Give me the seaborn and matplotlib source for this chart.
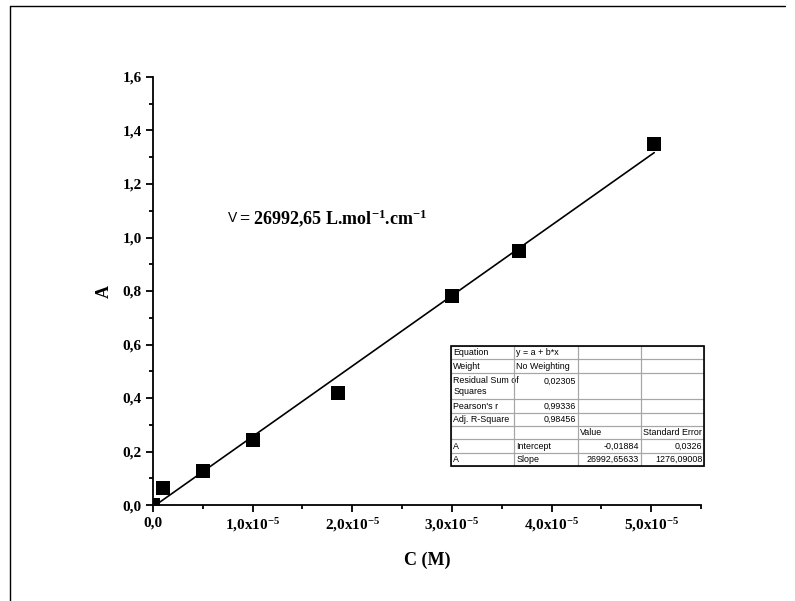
import pandas as pd
import numpy as np
import matplotlib
matplotlib.use('Agg')
import matplotlib.pyplot as plt
from matplotlib.ticker import MultipleLocator, FuncFormatter
from matplotlib.lines import Line2D
from matplotlib.patches import Rectangle
import seaborn as sns

#Datos: concentracion (M) y absorbancia
concentracion = [0.0, 1.0e-6, 5.0e-6, 1.0e-5, 1.86e-5, 3.0e-5, 3.67e-5, 5.03e-5]
absorbancia = [0.0, 0.065, 0.127, 0.243, 0.419, 0.781, 0.95, 1.35]

#Tabla de resultados del ajuste lineal (tal cual aparece en la grafica)
tabla_celdas = [
    ['Equation', 'y = a + b*x', '', ''],
    ['Weight', 'No Weighting', '', ''],
    ['Residual Sum of\nSquares', '0,02305\n', '', ''],
    ["Pearson's r", '0,99336', '', ''],
    ['Adj. R-Square', '0,98456', '', ''],
    ['', '', 'Value', 'Standard Error'],
    ['A', 'Intercept', '-0,01884', '0,0326'],
    ['A', 'Slope', '26992,65633', '1276,09008'],
]
celdas_derecha = [(2, 1), (3, 1), (4, 1), (6, 2), (6, 3), (7, 2), (7, 3)]

simbolo = 'V'
texto_epsilon = r'= 26992,65 L.mol$^{-1}$.cm$^{-1}$'

#Estilo general
sns.set_style('ticks')
plt.rcParams['font.family'] = ['Liberation Serif', 'DejaVu Serif']
plt.rcParams['font.weight'] = 'bold'
plt.rcParams['text.color'] = 'black'
plt.rcParams['axes.labelcolor'] = 'black'
plt.rcParams['xtick.color'] = 'black'
plt.rcParams['ytick.color'] = 'black'
plt.rcParams['mathtext.fontset'] = 'custom'
plt.rcParams['mathtext.rm'] = 'Liberation Serif:bold'
plt.rcParams['mathtext.bf'] = 'Liberation Serif:bold'
plt.rcParams['mathtext.default'] = 'regular'

fig = plt.figure(figsize=(7.95, 6.01), dpi=100)
ax = fig.add_axes([0.1925, 0.1597, 0.6893, 0.7122])

df = pd.DataFrame({'C': concentracion, 'A': absorbancia})
sns.regplot(data=df, x='C', y='A', ax=ax, ci=None, marker='s', color='black',
            scatter_kws={'s': 100, 'linewidths': 0, 'alpha': 1},
            line_kws={'lw': 1.2})

ax.set_xlim(0, 5.5e-5)
ax.set_ylim(0, 1.6)

#Formato de los ticks con coma decimal
def fmt_y(v, pos):
    return f'{v:.1f}'.replace('.', ',')

def fmt_x(v, pos):
    if abs(v) < 1e-12:
        return '0,0'
    return f'{v * 1e5:.1f}'.replace('.', ',') + r'x10$^{-5}$'

ax.xaxis.set_major_locator(MultipleLocator(1e-5))
ax.xaxis.set_minor_locator(MultipleLocator(5e-6))
ax.yaxis.set_major_locator(MultipleLocator(0.2))
ax.yaxis.set_minor_locator(MultipleLocator(0.1))
ax.xaxis.set_major_formatter(FuncFormatter(fmt_x))
ax.yaxis.set_major_formatter(FuncFormatter(fmt_y))

ax.tick_params(which='major', direction='out', length=5, width=1.3, labelsize=11, pad=3, color='black')
ax.tick_params(which='minor', direction='out', length=3, width=1.3, color='black')
sns.despine(ax=ax)
for lado in ['left', 'bottom']:
    ax.spines[lado].set_linewidth(1.3)
    ax.spines[lado].set_color('black')

ax.set_xlabel('C (M)', fontsize=13, fontweight='bold', labelpad=13)
ax.set_ylabel('A', fontsize=13, fontweight='bold', labelpad=7)

#Texto del coeficiente de absortividad
ax.text(7.53e-6, 1.073, simbolo, fontsize=10, fontweight='normal', family='Liberation Sans',
        va='center', ha='left')
ax.annotate(texto_epsilon, xy=(7.53e-6, 1.073), xytext=(8, 0), textcoords='offset points',
            fontsize=13, fontweight='bold', va='center', ha='left')

#Tabla del ajuste
caja = [0.544, 0.091, 0.4617, 0.2804]
tabla = ax.table(cellText=tabla_celdas, colWidths=[0.25] * 4, bbox=caja, cellLoc='left')
tabla.auto_set_font_size(False)
tabla.set_fontsize(6.4)
tabla.set_clip_on(False)
tabla.set_zorder(4)
for (r, c), celda in tabla.get_celld().items():
    celda.PAD = 0.03
    celda.set_facecolor('none')
    celda.set_edgecolor('#a6a6a6')
    celda.set_linewidth(0.8)
    celda.get_text().set_fontfamily('Liberation Sans')
    celda.get_text().set_fontweight('normal')
    if (r, c) in celdas_derecha:
        celda.get_text().set_horizontalalignment('right')
for c in range(4):
    tabla[2, c].set_height(tabla[2, c].get_height() * 2)
ax.add_patch(Rectangle((caja[0], caja[1]), caja[2], caja[3], transform=ax.transAxes,
                       fill=False, lw=1.2, ec='black', clip_on=False, zorder=6))

#Marco de la pagina
fig.add_artist(Line2D([10 / 795, 785 / 795], [1 - 6 / 601, 1 - 6 / 601], transform=fig.transFigure, color='black', lw=1))
fig.add_artist(Line2D([10 / 795, 10 / 795], [1 - 6 / 601, 0], transform=fig.transFigure, color='black', lw=1))

fig.savefig('out.png', dpi=100)
